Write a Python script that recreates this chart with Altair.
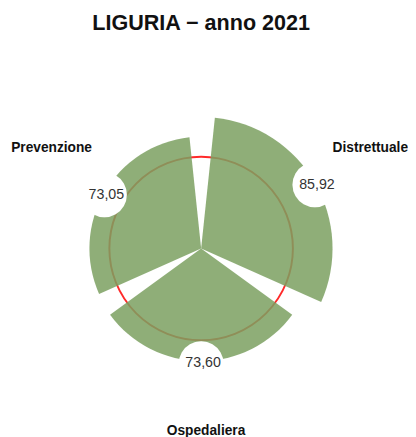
import math
import altair as alt
import pandas as pd

# ---- data ----
categories = ["Distrettuale", "Ospedaliera", "Prevenzione"]
values = [85.92, 73.60, 73.05]
value_labels = ["85,92", "73,60", "73,05"]
threshold = [60]

df = pd.DataFrame({
    "categoria": categories,
    "valore": values,
    "etichetta": value_labels,
    "quota": [1] * len(categories),
    "ordine": list(range(len(categories))),
})
df_soglia = pd.DataFrame({"soglia": threshold})

FONT = "Liberation Sans"
theta_scale = alt.Scale(domain=[0, len(categories)], range=[0, 2 * math.pi])
radius_scale = alt.Scale(domain=[0, 100], range=[0, 156])

base = (
    alt.Chart(df)
    .transform_window(t1="sum(quota)", sort=[alt.SortField("ordine")], frame=[None, 0])
    .transform_calculate(t0="datum.t1 - datum.quota", tm="datum.t1 - datum.quota / 2",
                         punto="'\u25cf'")
)

circle_ref = alt.Chart(df_soglia).mark_arc(
    theta=0, theta2=2 * math.pi, filled=False, color="#ff2a2a", strokeWidth=2
).encode(radius=alt.Radius("soglia:Q", scale=radius_scale))

wedges = base.mark_arc(padAngle=0.2094, color="#7ba060", opacity=0.85).encode(
    theta=alt.Theta("t0:Q", stack=False, scale=theta_scale),
    theta2="t1:Q",
    radius=alt.Radius("valore:Q", scale=radius_scale),
)

holes = base.mark_text(font="DejaVu Sans", fontSize=60, color="white", baseline="middle").encode(
    theta=alt.Theta("tm:Q", stack=False, scale=theta_scale),
    radius=alt.Radius("valore:Q", scale=radius_scale),
    text="punto:N",
)

vals = base.mark_text(font=FONT, fontSize=14.5, color="#333333", dx=2, dy=2).encode(
    theta=alt.Theta("tm:Q", stack=False, scale=theta_scale),
    radius=alt.Radius("valore:Q", scale=radius_scale),
    text="etichetta:N",
)

offsets = {"Prevenzione": (-1, -14.5), "Distrettuale": (21, -14.5), "Ospedaliera": (5, 11)}
cat_layers = []
for cat, (ddx, ddy) in offsets.items():
    cat_layers.append(
        base.transform_filter(alt.datum.categoria == cat)
        .mark_text(font=FONT, fontSize=14, fontWeight="bold", color="#111111",
                   radius=175, dx=ddx, dy=ddy)
        .encode(
            theta=alt.Theta("tm:Q", stack=False, scale=theta_scale),
            text="categoria:N",
        )
    )

chart = (
    alt.layer(circle_ref, wedges, holes, vals, *cat_layers)
    .properties(
        width=394,
        height=372,
        title=alt.Title("LIGURIA \u2212 anno 2021", font=FONT, fontSize=22,
                        fontWeight="bold", color="#111111", offset=32),
        autosize=alt.AutoSizeParams(type="none"),
        padding={"left": 0, "right": 14, "top": 55, "bottom": 2},
    )
    .configure_view(strokeWidth=0)
)

chart.save("out.html", embed_options={"renderer": "svg", "actions": False})
